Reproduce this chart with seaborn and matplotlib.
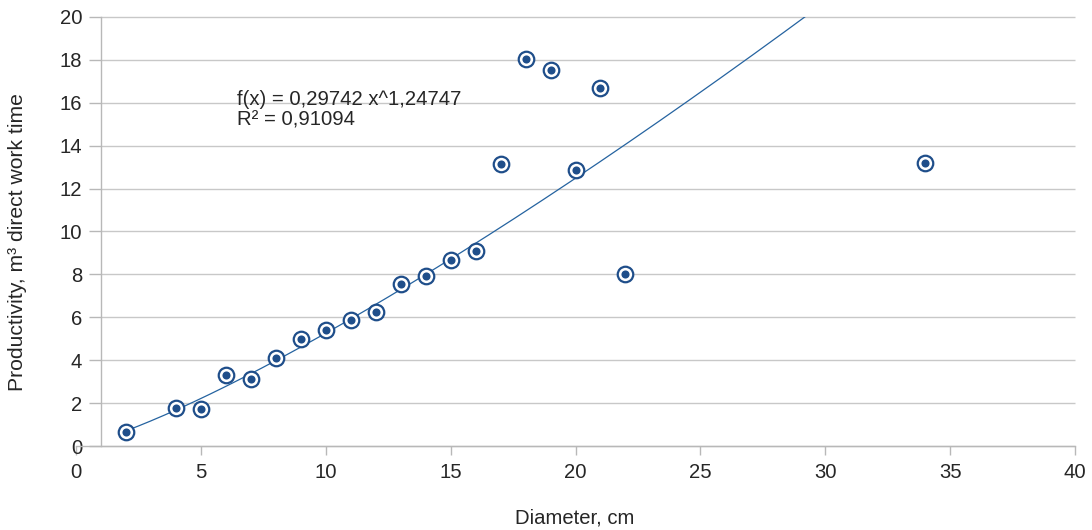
import numpy as np
import pandas as pd
import matplotlib
matplotlib.use("Agg")
import matplotlib.pyplot as plt
import seaborn as sns

# ---- data ----
diameter = [2, 4, 5, 6, 7, 8, 9, 10, 11, 12, 13, 14, 15, 16, 17, 18, 19, 20, 21, 22, 34]
productivity = [0.64, 1.75, 1.74, 3.31, 3.12, 4.08, 4.97, 5.40, 5.86, 6.23, 7.54, 7.93,
                8.69, 9.09, 13.16, 18.06, 17.52, 12.88, 16.70, 8.01, 13.21]
fit_a = 0.29742
fit_b = 1.24747
fit_r2 = 0.91094
x_ticks = [0, 5, 10, 15, 20, 25, 30, 35, 40]
y_ticks = [0, 2, 4, 6, 8, 10, 12, 14, 16, 18, 20]
x_label = "Diameter, cm"
y_label = "Productivity, m³ direct work time"
eq_text = "f(x) = 0,29742 x^1,24747\nR² = 0,91094"

df = pd.DataFrame({"d": diameter, "p": productivity})
xs = np.linspace(min(diameter), max(diameter), 400)
trend = pd.DataFrame({"d": xs, "p": fit_a * xs ** fit_b})

sns.set_theme(style="white")
plt.rcParams["font.family"] = ["Liberation Sans", "DejaVu Sans"]

fig = plt.figure(figsize=(10.92, 5.30), dpi=100)
ax = fig.add_axes([76 / 1092, 84 / 530, 999 / 1092, 429 / 530])

text_c = "#262626"
axis_c = "#b8b8b8"
mark_c = "#1f4e8a"
line_c = "#2563a0"
fs = 14.6

ax.set_xlim(0, 40)
ax.set_ylim(0, 20)

# horizontal grid lines starting at the y axis crossing
ax.hlines(y_ticks, 1, 40, colors="#c8c8c8", linewidth=1.0, zorder=0, clip_on=False)

sns.lineplot(data=trend, x="d", y="p", ax=ax, color=line_c, linewidth=0.9, zorder=2)
sns.scatterplot(data=df, x="d", y="p", ax=ax, s=125, color="white",
                edgecolor=mark_c, linewidth=1.6, zorder=3, clip_on=False)
sns.scatterplot(data=df, x="d", y="p", ax=ax, s=34, color=mark_c,
                edgecolor=mark_c, linewidth=0, zorder=4, clip_on=False)

ax.set_xticks(x_ticks)
ax.set_yticks(y_ticks)
ax.set_xticklabels([str(v) for v in x_ticks])
ax.set_yticklabels([str(v) for v in y_ticks])

for s in ["top", "right"]:
    ax.spines[s].set_visible(False)
ax.spines["left"].set_position(("data", 1))
for s in ["left", "bottom"]:
    ax.spines[s].set_color(axis_c)
    ax.spines[s].set_linewidth(1.0)

ax.tick_params(axis="y", direction="out", length=8.6, width=1.0, color=axis_c,
               pad=5, labelsize=fs, labelcolor=text_c, left=True)
ax.tick_params(axis="x", direction="out", length=6.5, width=1.0, color=axis_c,
               pad=6, labelsize=fs, labelcolor=text_c, bottom=True)

ax.set_xlabel("")
ax.set_ylabel("")
ax.grid(False)

ax.text(6.45, 16.58, eq_text, fontsize=fs, color=text_c, va="top", ha="left",
        linespacing=1.1, zorder=5)

fig.text(575 / 1092, 1 - 518 / 530, x_label, ha="center", va="center",
         fontsize=fs, color=text_c)
fig.text(18 / 1092, 1 - 242 / 530, y_label, ha="center", va="center",
         rotation=90, fontsize=15.2, color=text_c)

fig.savefig("out.png", dpi=100)
